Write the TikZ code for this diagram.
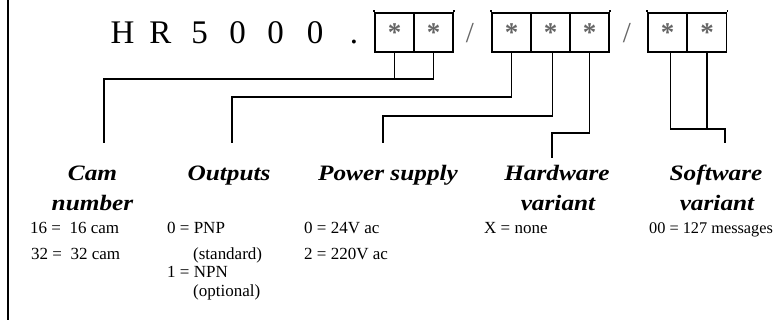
\documentclass[tikz,border=0pt]{standalone}
\usepackage{fontspec}
\setmainfont{Liberation Serif}
\newfontfamily\hdfont{Liberation Serif}[FakeStretch=1.15]
\newcommand\cellstar{\raisebox{-1.5pt}{*}}
\begin{document}
\begin{tikzpicture}[x=1pt,y=-1pt,
  line cap=rect,
  conn/.style={line width=1.6pt},
  cell/.style={draw, line width=1.6pt, minimum width=39pt, minimum height=39pt,
    inner sep=0pt, text=black!60, font=\bfseries\fontsize{27}{28}\selectfont},
  big/.style={inner sep=0pt, anchor=base, font=\fontsize{33}{36}\selectfont},
  slash/.style={inner sep=0pt, anchor=base, text=black!60, font=\fontsize{29}{30}\selectfont},
  hd/.style={inner sep=0pt, anchor=base, font=\hdfont\bfseries\itshape\fontsize{22}{26}\selectfont},
  sm/.style={inner sep=0pt, anchor=base west, font=\fontsize{17}{20}\selectfont}]
\useasboundingbox (0,0) rectangle (777,320);
% left border
\draw[line width=2pt] (8,0) -- (8,320);
% code text
\foreach \ch/\xx/\nm in {H/122.5/h1, R/160.5/h2, 5/199.5/h3, 0/237.5/h4, 0/275.5/h5, 0/315/h6, ./354/h7}
  \node[big] (\nm) at (\xx,44) {\ch};
% cells
\node[cell] (c1) at (394.5,32.5) {\cellstar};
\node[cell] (c2) at (433.5,32.5) {\cellstar};
\node[slash] (s1) at (470,43) {/};
\node[cell] (c3) at (511.5,32.5) {\cellstar};
\node[cell] (c4) at (550.5,32.5) {\cellstar};
\node[cell] (c5) at (589.5,32.5) {\cellstar};
\node[slash] (s2) at (627,43) {/};
\node[cell] (c6) at (667.5,32.5) {\cellstar};
\node[cell] (c7) at (707,32.5) {\cellstar};
% small ticks above outer corners
\foreach \n in {c1,c3,c6} \draw[conn,line cap=butt] (\n.north west) -- ++(0,-2.5);
\foreach \n in {c2,c5,c7} \draw[conn,line cap=butt] (\n.north east) -- ++(0,-2.5);
% turn and end coordinates
\coordinate (camturn) at (104,79);
\coordinate (camend) at (104,142);
\coordinate (outturn) at (232,97);
\coordinate (outend) at (232,142);
\coordinate (pwrturn) at (383,116);
\coordinate (pwrend) at (383,142);
\coordinate (hwturn) at (552,133);
\coordinate (hwend) at (552,157);
\coordinate (swturn) at (725,129);
\coordinate (swend) at (725,142);
% connectors
\draw[conn] (c2.south) |- (camturn) -- (camend);
\draw[conn] (c1.south) -- (c1.south |- camturn);
\draw[conn] (c3.south) |- (outturn) -- (outend);
\draw[conn] ([xshift=2pt]c4.south) |- (pwrturn) -- (pwrend);
\draw[conn] (c5.south) |- (hwturn) -- (hwend);
\draw[conn] ([xshift=3pt]c6.south) |- (swturn) -- (swend);
\draw[conn] (c7.south) -- (c7.south |- swturn);
% headers
\node[hd] (cam) at (92.5,181) {Cam};
\node[hd] (camn) at (92.5,211) {number};
\node[hd] (outp) at (229,181) {Outputs};
\node[hd] (pwr) at (388,181) {Power supply};
\node[hd] (hw) at (557,181) {Hardware};
\node[hd] (hwv) at (558,211) {variant};
\node[hd] (sw) at (716,181) {Software};
\node[hd] (swv) at (717,211) {variant};
% values
\node[sm] (v1) at (30,234) {16 =\ \ 16 cam};
\node[sm] (v2) at (31,260) {32 =\ \ 32 cam};
\node[sm] (v3) at (167,234) {0 = PNP};
\node[sm] (v4) at (193,260) {(standard)};
\node[sm] (v5) at (167,278) {1 = NPN};
\node[sm] (v6) at (193,297) {(optional)};
\node[sm] (v7) at (304,234) {0 = 24V ac};
\node[sm] (v8) at (304,260) {2 = 220V ac};
\node[sm] (v9) at (484,234) {X = none};
\node[sm, font=\fontsize{16.3}{20}\selectfont] (v10) at (649,234) {00 = 127 messages};
\end{tikzpicture}
\end{document}
